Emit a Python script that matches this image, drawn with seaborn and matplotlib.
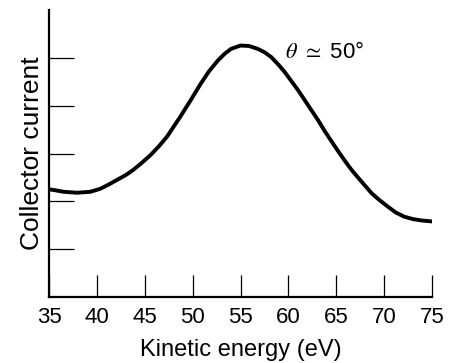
import matplotlib
matplotlib.use("Agg")
import matplotlib.pyplot as plt
import seaborn as sns
import pandas as pd

energy = [35.0, 35.4, 36.5, 37.9, 39.3, 40.3, 41.2, 42.1, 43.0, 43.8, 44.7, 45.6,
          46.5, 47.3, 48.0, 48.7, 49.8, 50.8, 51.7, 52.6, 53.3, 54.0, 55.0, 55.9,
          56.8, 57.5, 58.2, 59.0, 59.6, 60.3, 61.0, 61.7, 62.4, 63.1, 63.8, 64.5,
          65.2, 65.9, 66.6, 67.4, 68.1, 68.7, 69.5, 70.4, 71.2, 72.1, 73.0, 73.9, 75.0]
current = [2.25, 2.24, 2.20, 2.18, 2.20, 2.26, 2.35, 2.45, 2.55, 2.66, 2.81, 2.97,
           3.16, 3.35, 3.56, 3.77, 4.12, 4.45, 4.72, 4.94, 5.08, 5.19, 5.26, 5.25,
           5.19, 5.12, 5.02, 4.85, 4.71, 4.52, 4.33, 4.12, 3.91, 3.70, 3.47, 3.26,
           3.05, 2.85, 2.66, 2.47, 2.31, 2.17, 2.03, 1.89, 1.77, 1.68, 1.63, 1.60, 1.58]
xticks = [35, 40, 45, 50, 55, 60, 65, 70, 75]
yticks = [1, 2, 3, 4, 5]

sns.set_theme(style="white")
plt.rcParams['font.family'] = ['Liberation Sans', 'DejaVu Sans']
plt.rcParams['mathtext.fontset'] = 'stix'

df = pd.DataFrame({"energy": energy, "current": current})

fig = plt.figure(figsize=(4.56, 3.63), dpi=100)
ax = fig.add_axes([0.108, 0.182, 0.839, 0.790])
sns.lineplot(data=df, x="energy", y="current", ax=ax, color="black", linewidth=2.8)

ax.set_xlim(35, 75)
ax.set_ylim(0, 6)
ax.set_xticks(xticks)
ax.set_xticklabels([str(t) for t in xticks])
ax.set_yticks(yticks)
ax.set_yticklabels([])
ax.tick_params(axis='x', bottom=True, direction='in', length=16, width=0.9, color='black',
               labelsize=16, pad=7, labelcolor='black')
ax.tick_params(axis='y', left=True, direction='in', length=18, width=0.9, color='black', pad=0)
for s in ['top', 'right']:
    ax.spines[s].set_visible(False)
for s in ['left', 'bottom']:
    ax.spines[s].set_color('black')
    ax.spines[s].set_linewidth(1.6)

ax.set_xlabel("Kinetic energy (eV)", fontsize=17, color='black', labelpad=8)
ax.set_ylabel("Collector current", fontsize=19, color='black', labelpad=4)
ax.text(59.7, 5.12, r"$\theta$ $\simeq$ 50°", fontsize=16, ha='left', va='center', color='black')

fig.savefig("out.png", dpi=100)
